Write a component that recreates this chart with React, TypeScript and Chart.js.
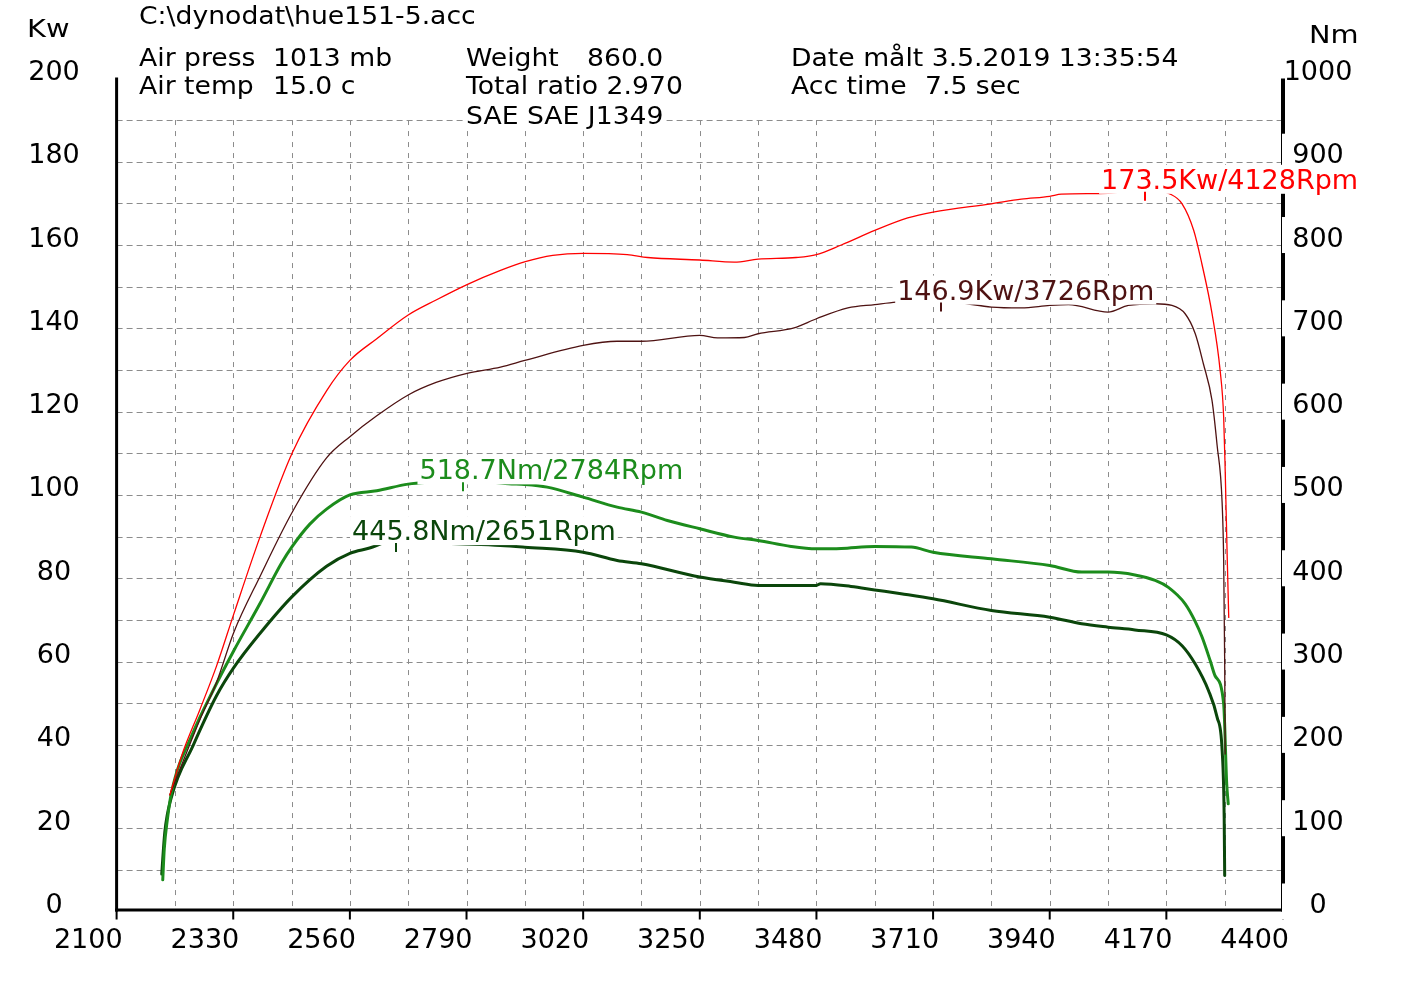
import { useEffect, useRef } from "react"
import { Chart, registerables } from "chart.js"

Chart.register(...registerables)

// axis ticks
const rpmTicks = [2100, 2330, 2560, 2790, 3020, 3250, 3480, 3710, 3940, 4170, 4400]
const kwTicks = [0, 20, 40, 60, 80, 100, 120, 140, 160, 180, 200]
const nmTicks = [0, 100, 200, 300, 400, 500, 600, 700, 800, 900, 1000]

// power, run 1 (red)
const redRpm = [2205, 2230, 2264, 2297, 2331, 2383, 2446, 2514, 2560, 2613, 2675, 2730, 2791, 2857, 2906, 2960, 3020, 3107, 3147, 3250, 3318, 3365, 3440, 3480, 3529, 3595, 3660, 3710, 3825, 3884, 3940, 3963, 4055, 4128, 4178, 4201, 4224, 4240, 4260, 4276, 4283, 4286, 4290, 4293]
const redKw = [28, 38, 48.4, 58.9, 71.4, 90, 110, 125, 132.3, 137.5, 143.2, 146.8, 150.5, 153.9, 156, 157.5, 158, 157.7, 157, 156.4, 155.9, 156.6, 157, 157.7, 160, 163.5, 166.5, 167.9, 169.9, 171, 171.7, 172.2, 172.4, 173.5, 172.2, 169.9, 163.5, 155.5, 143.6, 129.9, 118.7, 105.9, 85, 70.6]

// power, run 2 (brown)
const brownRpm = [2205, 2264, 2297, 2331, 2383, 2446, 2514, 2560, 2613, 2675, 2730, 2791, 2857, 2905, 3020, 3087, 3135, 3250, 3285, 3338, 3365, 3436, 3480, 3542, 3595, 3637, 3726, 3778, 3825, 3884, 3940, 3977, 4055, 4095, 4148, 4181, 4207, 4227, 4243, 4260, 4270, 4280, 4283, 4285, 4286]
const brownKw = [28, 46, 55, 67, 80.5, 95.8, 108.9, 114, 119, 124, 127, 129.2, 130.7, 132.3, 135.9, 136.9, 136.9, 138.3, 137.7, 137.8, 138.7, 140.1, 142.3, 144.9, 145.7, 146.3, 146.9, 145.9, 145.1, 144.9, 145.5, 145.7, 143.9, 145.5, 145.9, 145.5, 143.5, 138.7, 131.5, 122.7, 112, 98, 84.3, 60, 37.8]

// torque, run 1 (green)
const greenRpm = [2191, 2194, 2200, 2208, 2251, 2290, 2331, 2383, 2425, 2446, 2481, 2514, 2560, 2613, 2675, 2730, 2784, 2873, 2905, 2949, 3020, 3087, 3135, 3186, 3250, 3318, 3365, 3430, 3480, 3529, 3595, 3667, 3710, 3825, 3940, 4003, 4055, 4108, 4148, 4174, 4207, 4227, 4240, 4257, 4266, 4283, 4289, 4292]
const greenNm = [38, 75, 110, 142, 215, 265, 313, 370, 418, 438, 465, 483, 500, 505, 513, 516, 518.7, 513.4, 512.6, 509.4, 497.4, 485.4, 479.4, 469.4, 459.4, 449.4, 445.4, 438.2, 435.4, 435.8, 438.2, 437.4, 431.3, 423.3, 415.4, 407.4, 407.4, 404, 397.4, 389, 369.3, 348, 330, 300, 283, 249.3, 153.3, 129.3]

// torque, run 2 (dark green)
const darkRpm = [2189, 2195, 2208, 2251, 2297, 2331, 2383, 2446, 2514, 2560, 2597, 2651, 2750, 2857, 2905, 3020, 3087, 3135, 3250, 3318, 3365, 3480, 3488, 3548, 3595, 3647, 3710, 3825, 3940, 4003, 4055, 4108, 4170, 4201, 4227, 4253, 4270, 4280, 4284, 4285]
const darkNm = [45, 95, 137, 199.5, 259, 292.7, 334, 378, 414.5, 430, 436, 445.8, 442, 439.4, 437.3, 431.3, 421.4, 417.4, 401.4, 395.3, 391.4, 391.4, 393.4, 390.2, 386, 381.4, 375.4, 361.3, 353.3, 345.3, 341.3, 338, 332, 319, 297, 265.3, 233.3, 193.3, 113.2, 43.2]

// peak labels: red, brown, green, dark green
const peakRpm = [4128, 3726, 2784, 2651]
const peakValue = [173.5, 146.9, 518.7, 445.8]
const peakUnit = ["Kw", "Kw", "Nm", "Nm"]

const RED = "#ff0000"
const BROWN = "#4e1212"
const GREEN = "#1c8c1c"
const DARK = "#0b460b"
const curveColors = [RED, BROWN, GREEN, DARK]

const AXIS_FONT = '27px "DejaVu Sans"'
const HEAD_FONT = '24px "DejaVu Sans"'

function pts(xs: number[], ys: number[]) {
  return xs.map((x, i) => ({ x, y: ys[i] }))
}

// text helper, sx stretches horizontally, bg paints a white box behind
function text(
  ctx: CanvasRenderingContext2D,
  s: string,
  x: number,
  y: number,
  font: string,
  color: string,
  align: "left" | "center" | "right" = "left",
  sx = 1,
  bg: [number, number] | null = null
) {
  ctx.save()
  ctx.font = font
  const w = ctx.measureText(s).width * sx
  let left = x
  if (align === "center") left = x - w / 2
  if (align === "right") left = x - w
  if (bg) {
    ctx.fillStyle = "#fff"
    ctx.fillRect(left - 2, y - bg[0], w + 4, bg[0] + bg[1])
  }
  ctx.translate(left, y)
  ctx.scale(sx, 1)
  ctx.fillStyle = color
  ctx.textAlign = "left"
  ctx.textBaseline = "alphabetic"
  ctx.fillText(s, 0, 0)
  ctx.restore()
}

function line(ctx: CanvasRenderingContext2D, x1: number, y1: number, x2: number, y2: number) {
  ctx.beginPath()
  ctx.moveTo(x1, y1)
  ctx.lineTo(x2, y2)
  ctx.stroke()
}

const dynoPlugin = {
  id: "dyno",
  beforeDatasetsDraw(chart: any) {
    const { ctx, chartArea: a, scales } = chart
    const xs = scales.x
    const kw = scales.kw
    ctx.save()
    ctx.strokeStyle = "#8c8c8c"
    ctx.lineWidth = 1
    ctx.setLineDash([6, 4])
    for (let v = 10; v < 200; v += 10) {
      const py = Math.round(kw.getPixelForValue(v)) + 0.5
      line(ctx, a.left, py, a.right, py)
    }
    ctx.setLineDash([5, 6])
    const top = kw.getPixelForValue(190)
    for (let r = 2215; r < 4400; r += 115) {
      const px = Math.round(xs.getPixelForValue(r)) + 0.5
      line(ctx, px, top, px, a.bottom)
    }
    ctx.restore()
  },
  afterDatasetsDraw(chart: any) {
    const { ctx, chartArea: a, scales } = chart
    const xs = scales.x
    const kw = scales.kw
    const nm = scales.nm
    ctx.save()
    ctx.strokeStyle = "#000"
    ctx.setLineDash([])

    // axes
    ctx.lineWidth = 3
    line(ctx, a.left, a.top - 1, a.left, a.bottom)
    line(ctx, a.left - 1.5, a.bottom - 1.5, a.right, a.bottom - 1.5)
    ctx.lineWidth = 4
    line(ctx, a.right, a.top, a.right, a.bottom)

    // x ticks + labels
    ctx.lineWidth = 2
    rpmTicks.forEach((r) => {
      const px = xs.getPixelForValue(r)
      line(ctx, px, a.bottom - 1, px, a.bottom + 8)
      text(ctx, String(r), px + 6, a.bottom + 36, AXIS_FONT, "#000", "right")
    })

    // left labels
    kwTicks.forEach((v) => {
      const py = kw.getPixelForValue(v)
      text(ctx, String(v), 54, py + 1.5, AXIS_FONT, "#000", "center")
    })

    // right labels, their boxes break the axis line
    nmTicks.forEach((v) => {
      const py = nm.getPixelForValue(v)
      if (v < 1000) {
        ctx.fillStyle = "#fff"
        ctx.fillRect(a.right - 1, py - 28, 76, 36)
      }
      text(ctx, String(v), a.right + 35, py + 1.5, AXIS_FONT, "#000", "center")
    })

    // header
    const sx = 1.11
    const hb: [number, number] = [19, 6]
    text(ctx, "C:\\dynodat\\hue151-5.acc", 139, 24, HEAD_FONT, "#000", "left", sx)
    text(ctx, "Kw", 27, 37, HEAD_FONT, "#000", "left", 1.2)
    text(ctx, "Nm", 1309, 43, HEAD_FONT, "#000", "left", 1.2)
    text(ctx, "Air press", 139, 66, HEAD_FONT, "#000", "left", sx)
    text(ctx, "1013 mb", 273, 66, HEAD_FONT, "#000", "left", sx)
    text(ctx, "Air temp", 139, 94, HEAD_FONT, "#000", "left", sx)
    text(ctx, "15.0 c", 273, 94, HEAD_FONT, "#000", "left", sx)
    text(ctx, "Weight", 466, 66, HEAD_FONT, "#000", "left", sx)
    text(ctx, "860.0", 587, 66, HEAD_FONT, "#000", "left", sx)
    text(ctx, "Total ratio 2.970", 466, 94, HEAD_FONT, "#000", "left", sx)
    text(ctx, "SAE SAE J1349", 466, 124, HEAD_FONT, "#000", "left", sx, hb)
    text(ctx, "Date målt 3.5.2019 13:35:54", 791, 66, HEAD_FONT, "#000", "left", sx)
    text(ctx, "Acc time", 791, 94, HEAD_FONT, "#000", "left", sx)
    text(ctx, "7.5 sec", 925, 94, HEAD_FONT, "#000", "left", sx)

    // peak labels with markers
    peakRpm.forEach((r, i) => {
      const scale = peakUnit[i] === "Kw" ? kw : nm
      const px = xs.getPixelForValue(r)
      const py = scale.getPixelForValue(peakValue[i])
      const label = peakValue[i].toFixed(1) + peakUnit[i] + "/" + r + "Rpm"
      text(ctx, label, px - 44, py, AXIS_FONT, curveColors[i], "left", 1, [24, 5])
      ctx.strokeStyle = curveColors[i]
      ctx.lineWidth = 2
      line(ctx, Math.round(px), py + 3, Math.round(px), py + 12)
    })
    ctx.restore()
  },
}

export default function App() {
  const chartRef = useRef<HTMLCanvasElement>(null)
  const chartInstance = useRef<Chart | null>(null)

  useEffect(() => {
    if (!chartRef.current) return
    if (chartInstance.current) chartInstance.current.destroy()

    const base = {
      pointRadius: 0,
      fill: false,
      cubicInterpolationMode: "monotone" as const,
      borderJoinStyle: "round" as const,
      borderCapStyle: "round" as const,
    }

    chartInstance.current = new Chart(chartRef.current, {
      type: "line",
      data: {
        datasets: [
          { ...base, data: pts(redRpm, redKw), borderColor: RED, borderWidth: 1.3, yAxisID: "kw" },
          { ...base, data: pts(brownRpm, brownKw), borderColor: BROWN, borderWidth: 1.3, yAxisID: "kw" },
          { ...base, data: pts(greenRpm, greenNm), borderColor: GREEN, borderWidth: 3, yAxisID: "nm" },
          { ...base, data: pts(darkRpm, darkNm), borderColor: DARK, borderWidth: 3, yAxisID: "nm" },
        ],
      },
      options: {
        animation: false,
        responsive: true,
        maintainAspectRatio: false,
        events: [],
        layout: { padding: { left: 116.6, right: 143, top: 78.4, bottom: 83.5 } },
        plugins: { legend: { display: false }, tooltip: { enabled: false } },
        scales: {
          x: { type: "linear", min: 2100, max: 4400, display: false },
          kw: { type: "linear", position: "left", min: 0, max: 200, display: false },
          nm: { type: "linear", position: "right", min: 0, max: 1000, display: false },
        },
      },
      plugins: [dynoPlugin],
    })

    return () => {
      if (chartInstance.current) {
        chartInstance.current.destroy()
        chartInstance.current = null
      }
    }
  }, [])

  return (
    <div style={{ position: "fixed", left: 0, top: 0, width: 1426, height: 995, background: "#fff" }}>
      <canvas ref={chartRef} />
    </div>
  )
}
